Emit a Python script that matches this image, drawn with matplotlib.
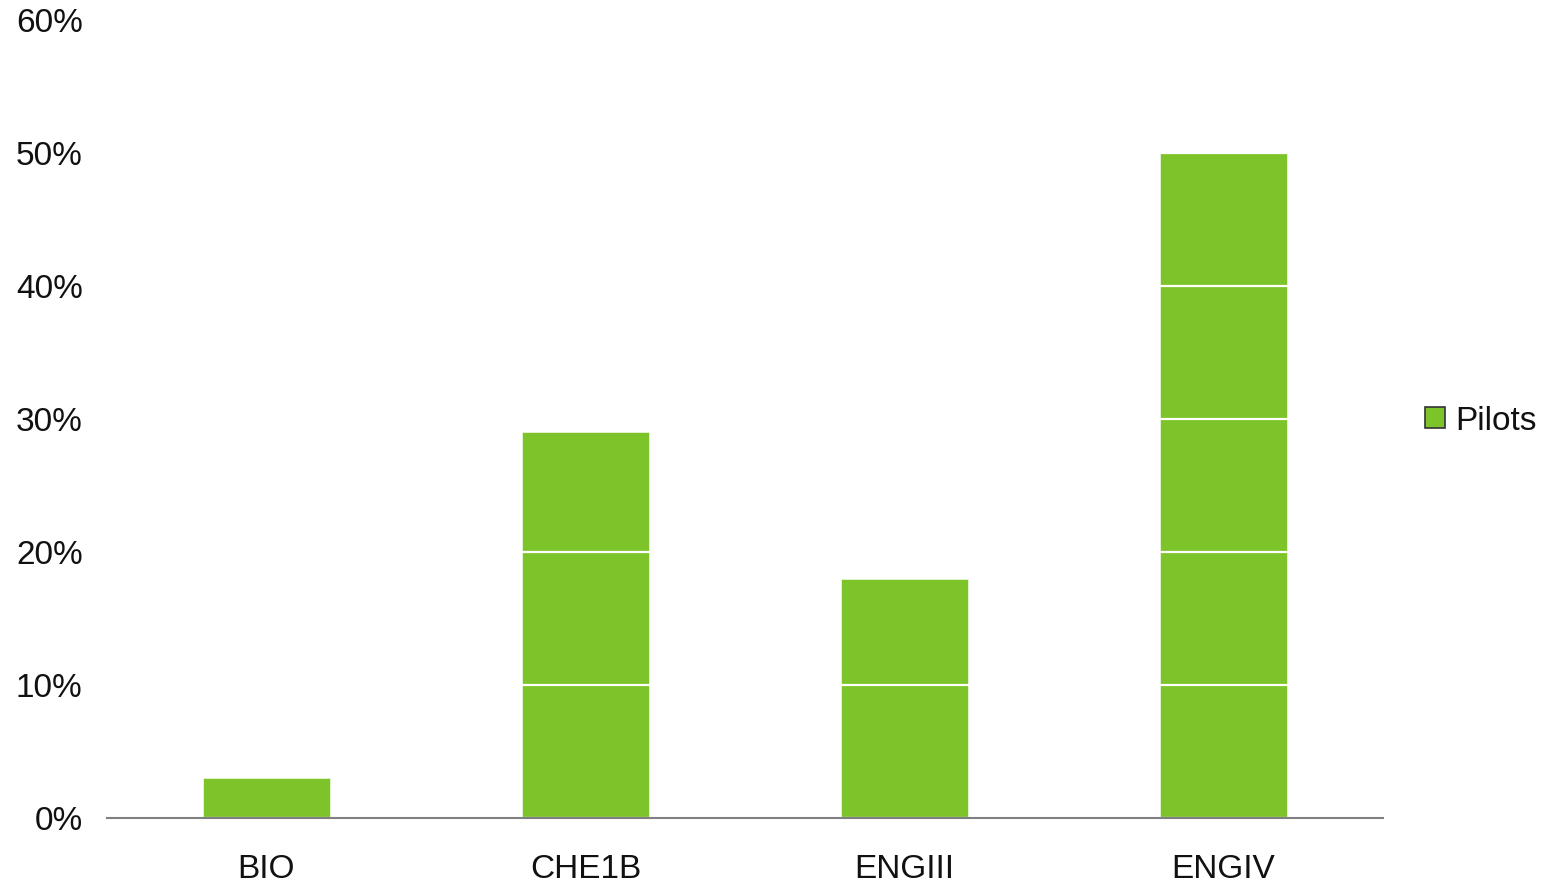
import matplotlib.pyplot as plt
from matplotlib.patches import Patch
from matplotlib.ticker import FuncFormatter, MultipleLocator

categories = ["BIO", "CHE1B", "ENGIII", "ENGIV"]
pilots = [3, 29, 18, 50]  # percent

bar_color = "#7DC42A"

plt.rcParams["font.family"] = ["Liberation Sans", "DejaVu Sans"]

fig = plt.figure(figsize=(15.45, 8.84), dpi=100)
ax = fig.add_axes([107 / 1545, 1 - 818 / 884, 1276 / 1545, 798 / 884])

x = range(len(categories))
ax.bar(x, pilots, width=0.4, color=bar_color, edgecolor="#E8F5D8", linewidth=0.6, zorder=2)

ax.set_xlim(-0.5, len(categories) - 0.5)
ax.set_ylim(0, 60)
ax.yaxis.set_major_locator(MultipleLocator(10))
ax.yaxis.set_major_formatter(FuncFormatter(lambda v, _: f"{v:.0f}%"))
ax.set_xticks(list(x))
ax.set_xticklabels(categories)

# white gridlines only show up over the bars
ax.grid(axis="y", color="white", linewidth=1.6, zorder=3)
ax.set_axisbelow(False)

for side in ["top", "right", "left"]:
    ax.spines[side].set_visible(False)
ax.spines["bottom"].set_color("#808080")
ax.spines["bottom"].set_linewidth(1.5)
ax.spines["bottom"].set_zorder(4)

ax.tick_params(axis="y", length=0, pad=17.5, labelsize=24, labelcolor="#111111")
ax.tick_params(axis="x", length=0, pad=26, labelsize=24, labelcolor="#111111")

# legend marker has a dark outline, so use a proxy patch
legend_patch = Patch(facecolor=bar_color, edgecolor="#333333", linewidth=1.2, label="Pilots")
fig.legend(handles=[legend_patch], loc="center left", bbox_to_anchor=(1412 / 1545, 1 - 421 / 884),
           frameon=False, fontsize=24, labelcolor="#111111", handlelength=0.6, handleheight=0.6,
           handletextpad=0.3, borderaxespad=0)

fig.savefig("out.png", dpi=100)
